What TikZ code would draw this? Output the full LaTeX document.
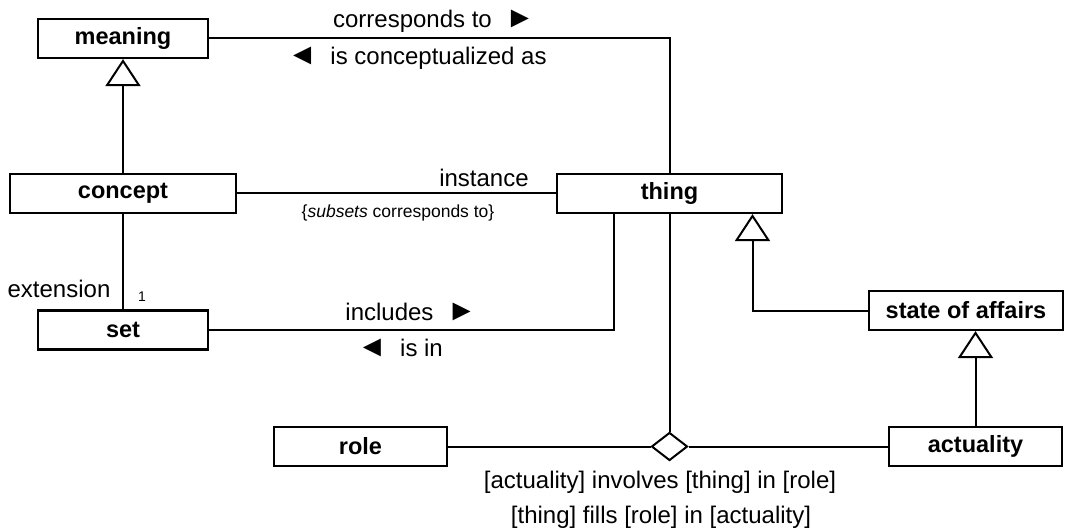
\documentclass[tikz,border=0pt]{standalone}
\usepackage{fontspec}
\setmainfont{Liberation Sans}
\usetikzlibrary{arrows.meta,shapes.geometric}
\newcommand{\rtri}{{\fontsize{30}{30}\selectfont ►}}
\newcommand{\ltri}{{\fontsize{30}{30}\selectfont ◄}}
\begin{document}
\begin{tikzpicture}[x=1pt,y=-1pt,
  box/.style={draw, line width=2.2pt, minimum height=39pt, inner sep=0pt, fill=white,
    font=\bfseries\fontsize{23.5}{27}\selectfont},
  conn/.style={line width=2pt},
  gen/.style={line width=2pt, -{Triangle[open,length=27pt,width=35pt,line width=2pt]}},
  lbl/.style={inner sep=0pt, font=\fontsize{24}{28}\selectfont},
  smalllbl/.style={inner sep=0pt, font=\fontsize{17.5}{20}\selectfont},
  tinylbl/.style={inner sep=0pt, font=\fontsize{14}{16}\selectfont},
  rel/.style={draw, diamond, line width=2pt, fill=white, inner sep=0pt,
    minimum width=36pt, minimum height=28pt}]
\useasboundingbox (0,0) rectangle (1067,529);
% boxes
\node[box, minimum width=170pt] (meaning) at (123,38.5) {meaning};
\node[box, minimum width=226pt] (concept) at (123,193.5) {concept};
\node[box, minimum width=225pt] (thing) at (669.5,193.5) {thing};
\node[box, minimum width=170pt] (set) at (123,330) {set};
\node[box, minimum width=194pt] (soa) at (966,310.5) {state of affairs};
\node[box, minimum width=173pt] (role) at (360.5,446.5) {role};
\node[box, minimum width=173pt] (act) at (975.5,446.5) {actuality};
\node[rel] (dia) at (669.5,446.5) {};
% connectors
\draw[conn] (meaning.east) -| (thing.north);
\draw[conn] (concept.east) -- (thing.west);
\draw[gen] (concept.north) -- (meaning.south);
\draw[conn] (concept.south) -- (set.north);
\draw[conn] (set.east) -| ([xshift=-56pt]thing.south);
\draw[conn] (thing.south) -- (dia.north);
\draw[conn] (role.east) -- (dia.west);
\draw[conn] (dia.east) -- (act.west);
\draw[gen] (soa.west) -| ([xshift=83pt]thing.south);
\draw[gen] (act.north) -- (act.north |- soa.south);
% labels
\node[lbl] (l1) at (434,21) {corresponds to \ \rtri};
\node[lbl] (l2) at (417,58) {\ltri\ \ is conceptualized as};
\node[lbl] (l3) at (484,178) {instance};
\node[smalllbl] (l4) at (398,213) {\{\textit{subsets} corresponds to\}};
\node[lbl] (l5) at (59,289) {extension};
\node[tinylbl] (l6) at (142,297) {1};
\node[lbl] (l7) at (411,312) {includes \ \rtri};
\node[lbl] (l8) at (400,348) {\ltri\ \ is in};
\node[lbl] (l9) at (660,482) {[actuality] involves [thing] in [role]};
\node[lbl] (l10) at (661,517) {[thing] fills [role] in [actuality]};
\end{tikzpicture}
\end{document}
